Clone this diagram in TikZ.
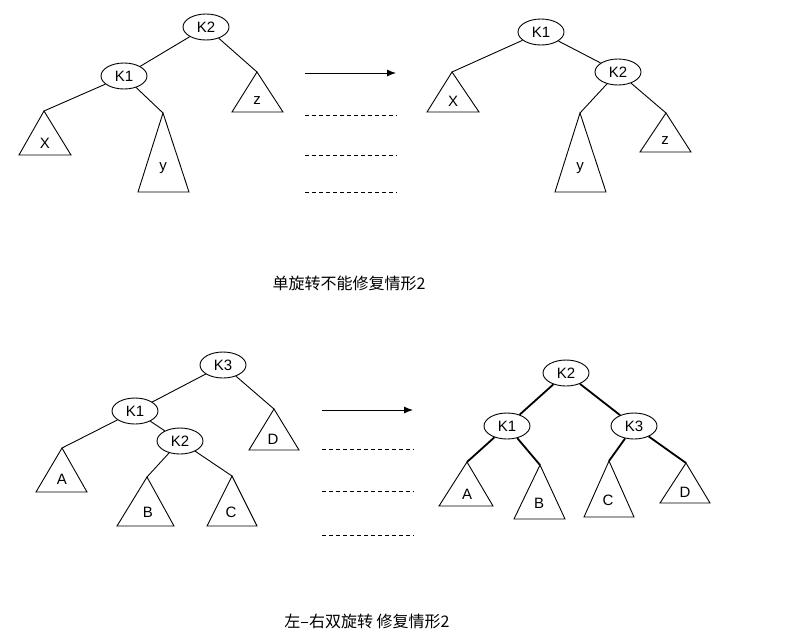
\documentclass[tikz,border=0pt]{standalone}
\usepackage{fontspec}
\setmainfont{Liberation Sans}
\newfontfamily\cjk{Noto Sans CJK SC}
\usetikzlibrary{shapes.geometric,arrows.meta}

\tikzset{
  knode/.style={draw, ellipse, minimum width=46pt, minimum height=26pt, inner sep=0pt},
  bold/.style={line width=1.8pt},
  dots/.style={line width=0.9pt, dash pattern=on 4pt off 3pt},
  caption/.style={font=\cjk\fontsize{16}{19}\selectfont}
}

\begin{document}
\begin{tikzpicture}[x=1pt, y=-1pt, font=\fontsize{15}{17}\selectfont, line width=0.9pt]
\useasboundingbox (0,0) rectangle (797,641);

% single rotation, before
\node[knode] (k2a) at (206,27) {K2};
\node[knode] (k1a) at (124,76) {K1};
\coordinate (xa) at (44,111);
\coordinate (ya) at (163,113);
\coordinate (za) at (257,72);
\draw (xa) -- (19,155) -- (71,155) -- cycle;
\draw (ya) -- (138,192) -- (189,192) -- cycle;
\draw (za) -- (232,112) -- (283,112) -- cycle;
\node (xla) at (45,143) {X};
\node (yla) at (163,168) {y};
\node (zla) at (257,101) {z};
\draw (k2a) -- (k1a);
\draw (k2a) -- (za);
\draw (k1a) -- (xa);
\draw (k1a) -- (ya);

% single rotation, after
\node[knode] (k1b) at (541,32) {K1};
\node[knode] (k2b) at (618,72) {K2};
\coordinate (xb) at (452,72);
\coordinate (yb) at (580,113);
\coordinate (zb) at (666,113);
\draw (xb) -- (427,112) -- (479,112) -- cycle;
\draw (yb) -- (555,192) -- (606,192) -- cycle;
\draw (zb) -- (640,152) -- (691,152) -- cycle;
\node (xlb) at (453,101) {X};
\node (ylb) at (580,168) {y};
\node (zlb) at (665,141) {z};
\draw (k1b) -- (k2b);
\draw (k1b) -- (xb);
\draw (k2b) -- (yb);
\draw (k2b) -- (zb);

\coordinate (s1) at (305,73);
\coordinate (e1) at (396,73);
\draw[-{Latex[length=9pt,width=7pt]}] (s1) -- (e1);
\foreach \yy in {115,155,192}
  \draw[dots] (305,\yy) -- (397,\yy);

\node[caption] (cap1) at (349,283) {单旋转不能修复情形2};

% double rotation, before
\node[knode] (k3c) at (223,365) {K3};
\node[knode] (k1c) at (135,411) {K1};
\node[knode] (k2c) at (180,441) {K2};
\coordinate (ac) at (62,448);
\coordinate (bc) at (147,477);
\coordinate (cc) at (232,476);
\coordinate (dc) at (274,409);
\draw (ac) -- (36,492) -- (87,492) -- cycle;
\draw (bc) -- (117,526) -- (174,526) -- cycle;
\draw (cc) -- (207,526) -- (257,526) -- cycle;
\draw (dc) -- (249,450) -- (299,450) -- cycle;
\node (alc) at (62,479) {A};
\node (blc) at (148,512) {B};
\node (clc) at (231,512) {C};
\node (dlc) at (273,439) {D};
\draw (k3c) -- (k1c);
\draw (k3c) -- (dc);
\draw (k1c) -- (ac);
\draw (k1c) -- (k2c);
\draw (k2c) -- (bc);
\draw (k2c) -- (cc);

% double rotation, after
\node[knode] (k2d) at (566,373) {K2};
\node[knode] (k1d) at (507,426) {K1};
\node[knode] (k3d) at (634,426) {K3};
\coordinate (ad) at (467,462);
\coordinate (bd) at (540,465);
\coordinate (cd) at (609,461);
\coordinate (dd) at (686,463);
\draw (ad) -- (439,506) -- (493,506) -- cycle;
\draw (bd) -- (514,519) -- (565,519) -- cycle;
\draw (cd) -- (584,517) -- (634,517) -- cycle;
\draw (dd) -- (660,503) -- (710,503) -- cycle;
\node (ald) at (467,494) {A};
\node (bld) at (539,503) {B};
\node (cld) at (608,500) {C};
\node (dld) at (685,492) {D};
\draw[bold] (k2d) -- (k1d);
\draw[bold] (k2d) -- (k3d);
\draw[bold] (k1d) -- (ad);
\draw[bold] (k1d) -- (bd);
\draw[bold] (k3d) -- (cd);
\draw[bold] (k3d) -- (dd);

\coordinate (s2) at (322,410);
\coordinate (e2) at (413,410);
\draw[-{Latex[length=9pt,width=7pt]}] (s2) -- (e2);
\foreach \yy in {449,491,535}
  \draw[dots] (322,\yy) -- (414,\yy);

\node[caption] (cap2) at (367,621) {左–右双旋转 修复情形2};
\end{tikzpicture}
\end{document}
